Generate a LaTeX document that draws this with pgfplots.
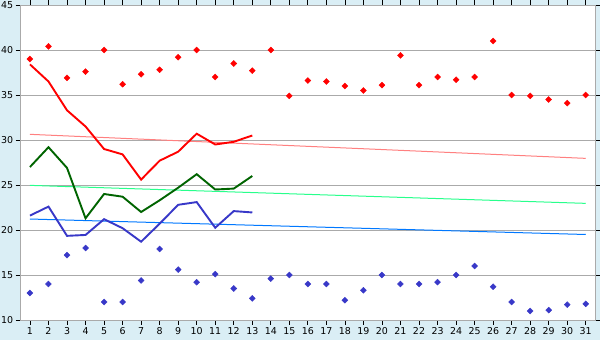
\documentclass[border=0pt]{standalone}
\usepackage{pgfplots}
\pgfplotsset{compat=1.18}
\usepackage{fontspec}
\setmainfont{DejaVu Sans}
\definecolor{bgblue}{RGB}{218,238,245}
\definecolor{gridgray}{RGB}{170,170,170}
\definecolor{dgreen}{RGB}{0,100,0}
\definecolor{lineblue}{RGB}{56,56,200}
\definecolor{tpink}{RGB}{255,128,128}
\definecolor{tgreen}{RGB}{40,255,140}
\definecolor{tblue}{RGB}{0,120,255}
\begin{document}
\begin{tikzpicture}
\fill[bgblue] (0,0) rectangle (600bp,340bp);
\useasboundingbox (0,0) rectangle (600bp,340bp);
\begin{axis}[
  at={(20.7bp,20bp)}, anchor=south west,
  scale only axis, width=574.3bp, height=315bp,
  xmin=0.5, xmax=31.5, ymin=10, ymax=45,
  xtick={1,...,31}, ytick={10,15,...,45},
  tick align=outside, major tick length=5bp,
  tick style={black, line width=0.8bp},
  ymajorgrids, grid style={gridgray, line width=0.8bp},
  axis line style={gridgray, line width=0.8bp},
  axis background/.style={fill=white},
  /pgf/number format/assume math mode=true,
  tick label style={font=\fontsize{9.5}{11}\selectfont},
  xticklabel style={yshift=1bp},
  yticklabel style={xshift=1bp},
  clip=false,
]
% trend lines
\addplot[tpink, line width=1bp] coordinates {(1,30.63) (31,27.96)};
\addplot[tgreen, line width=1bp] coordinates {(1,24.96) (31,22.96)};
\addplot[tblue, line width=1bp] coordinates {(1,21.22) (31,19.5)};
% red line
\addplot[red, line width=1.9bp] coordinates {
(1,38.4) (2,36.5) (3,33.3) (4,31.5) (5,29.0) (6,28.4) (7,25.6) (8,27.7) (9,28.7) (10,30.7) (11,29.5) (12,29.8) (13,30.5)};
% green line
\addplot[dgreen, line width=1.9bp] coordinates {
(1,27.0) (2,29.2) (3,26.9) (4,21.3) (5,24.0) (6,23.7) (7,22.0) (8,23.3) (9,24.7) (10,26.2) (11,24.5) (12,24.6) (13,26.0)};
% blue line
\addplot[lineblue, line width=1.9bp] coordinates {
(1,21.6) (2,22.6) (3,19.35) (4,19.45) (5,21.2) (6,20.2) (7,18.7) (8,20.7) (9,22.8) (10,23.1) (11,20.25) (12,22.1) (13,21.95)};
% max markers
\addplot[only marks, mark=square*, mark size=2.1bp, red, mark options={fill=red, rotate=45}] coordinates {
(1,39.0) (2,40.4) (3,36.9) (4,37.6) (5,40.0) (6,36.2) (7,37.3) (8,37.8) (9,39.2) (10,40.0)
(11,37.0) (12,38.5) (13,37.7) (14,40.0) (15,34.9) (16,36.6) (17,36.5) (18,36.0) (19,35.5) (20,36.1)
(21,39.4) (22,36.1) (23,37.0) (24,36.7) (25,37.0) (26,41.0) (27,35.0) (28,34.9) (29,34.5) (30,34.1) (31,35.0)};
% min markers
\addplot[only marks, mark=square*, mark size=2.1bp, lineblue, mark options={fill=lineblue, rotate=45}] coordinates {
(1,13.0) (2,14.0) (3,17.2) (4,18.0) (5,12.0) (6,12.0) (7,14.4) (8,17.9) (9,15.6) (10,14.2)
(11,15.1) (12,13.5) (13,12.4) (14,14.6) (15,15.0) (16,14.0) (17,14.0) (18,12.2) (19,13.3) (20,15.0)
(21,14.0) (22,14.0) (23,14.2) (24,15.0) (25,16.0) (26,13.7) (27,12.0) (28,11.0) (29,11.1) (30,11.7) (31,11.8)};
\end{axis}
\end{tikzpicture}
\end{document}
